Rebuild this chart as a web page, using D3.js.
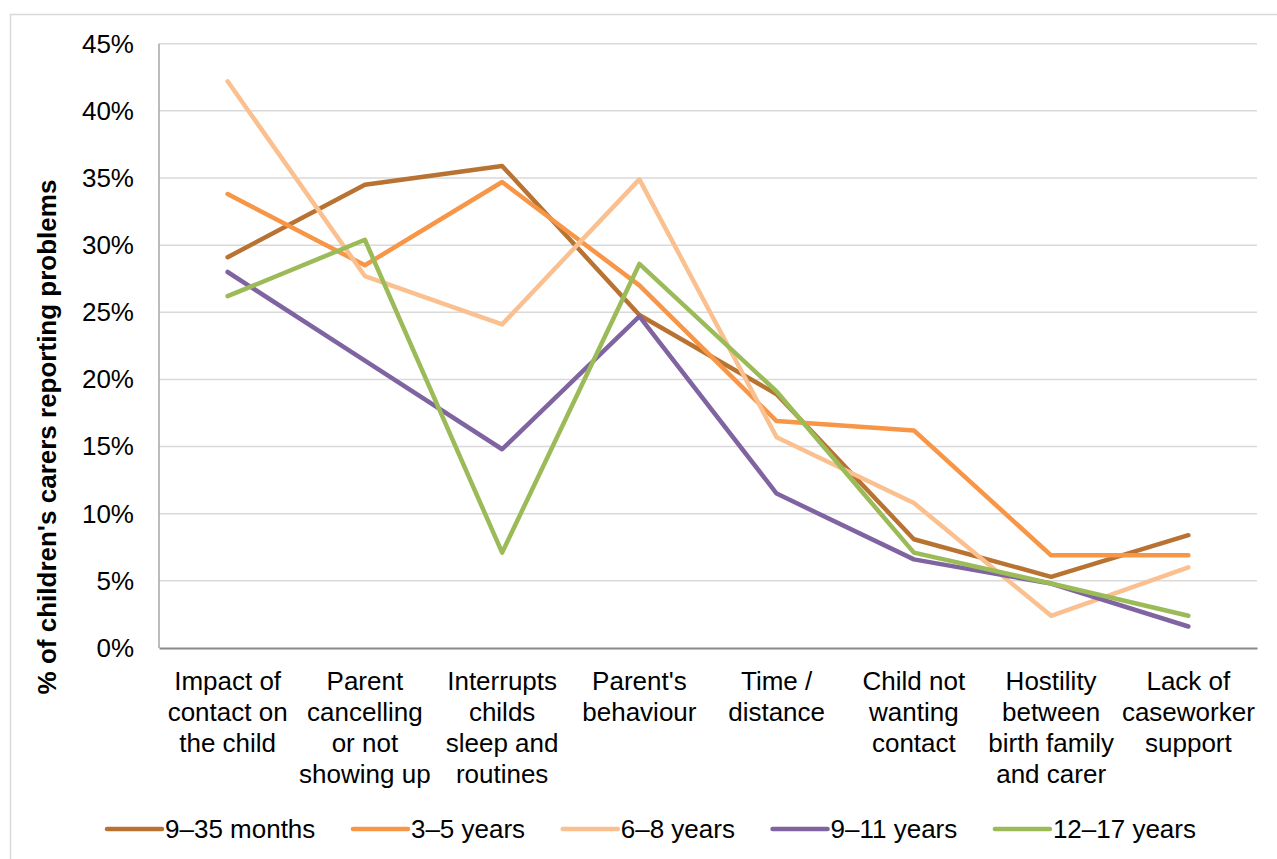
<!DOCTYPE html>
<html>
<head>
<meta charset="utf-8">
<script src="https://cdn.jsdelivr.net/npm/d3@7"></script>
<style>
  html, body { margin: 0; padding: 0; background: #fff; }
  svg { display: block; font-family: "Liberation Sans", Arial, sans-serif; }
</style>
</head>
<body>
<svg id="chart" width="1277" height="859"></svg>
<script>
const categories = [
  "Impact of\ncontact on\nthe child",
  "Parent\ncancelling\nor not\nshowing up",
  "Interrupts\nchilds\nsleep and\nroutines",
  "Parent's\nbehaviour",
  "Time /\ndistance",
  "Child not\nwanting\ncontact",
  "Hostility\nbetween\nbirth family\nand carer",
  "Lack of\ncaseworker\nsupport"
];
const seriesNames = ["9–35 months", "3–5 years", "6–8 years", "9–11 years", "12–17 years"];
const months9to35 = [29.1, 34.5, 35.9, 24.8, 18.9, 8.1, 5.3, 8.4];
const years3to5   = [33.8, 28.5, 34.7, 27.0, 16.9, 16.2, 6.9, 6.9];
const years6to8   = [42.2, 27.7, 24.1, 34.9, 15.7, 10.8, 2.4, 6.0];
const years9to11  = [28.0, 21.4, 14.8, 24.7, 11.5, 6.6, 4.8, 1.6];
const years12to17 = [26.2, 30.4, 7.1, 28.6, 19.1, 7.1, 4.8, 2.4];
const yTicks = [0, 5, 10, 15, 20, 25, 30, 35, 40, 45];
const colors = ["#B87333", "#F79646", "#FAC090", "#8064A2", "#9BBB59"];
const yTitle = "% of children's carers reporting problems";

const seriesValues = [months9to35, years3to5, years6to8, years9to11, years12to17];

const svg = d3.select("#chart");
const W = 1277, H = 859;
const FS = 26;

// outer chart border
svg.append("rect")
  .attr("x", 10.5).attr("y", 14.5)
  .attr("width", W).attr("height", H)
  .attr("fill", "none").attr("stroke", "#D9D9D9").attr("stroke-width", 1.5);

const plot = { left: 159, right: 1257, top: 43.7, bottom: 648 };

const x = d3.scaleBand().domain(d3.range(categories.length))
  .range([plot.left, plot.right]).paddingInner(0).paddingOuter(0);
const xc = i => x(i) + x.bandwidth() / 2;
const y = d3.scaleLinear().domain([0, 45]).range([plot.bottom, plot.top]);

// gridlines
svg.append("g")
  .selectAll("line")
  .data(yTicks.filter(t => t > 0))
  .join("line")
  .attr("x1", plot.left).attr("x2", plot.right)
  .attr("y1", d => y(d)).attr("y2", d => y(d))
  .attr("stroke", "#D9D9D9").attr("stroke-width", 1.5);

// y axis line
svg.append("line")
  .attr("x1", plot.left).attr("x2", plot.left)
  .attr("y1", plot.top).attr("y2", plot.bottom)
  .attr("stroke", "#A6A6A6").attr("stroke-width", 1.5);

// y tick labels
const yAxis = d3.axisLeft(y).tickValues(yTicks).tickFormat(d => d + "%").tickSize(0).tickPadding(25);
const yg = svg.append("g").attr("transform", `translate(${plot.left},0)`).call(yAxis);
yg.select(".domain").remove();
yg.selectAll("text")
  .attr("font-size", FS).attr("fill", "#000")
  .attr("font-family", "'Liberation Sans', Arial, sans-serif");

// x axis
const xAxis = d3.axisBottom(x).tickSize(0).tickFormat(() => "");
const xg = svg.append("g").attr("transform", `translate(0,${plot.bottom})`).call(xAxis);
xg.select(".domain").attr("stroke", "#898989").attr("stroke-width", 2);

// category labels (multi-line)
const lineH = 31;
const catG = svg.append("g");
categories.forEach((c, i) => {
  const t = catG.append("text")
    .attr("x", xc(i)).attr("y", 690)
    .attr("text-anchor", "middle").attr("font-size", FS).attr("fill", "#000");
  c.split("\n").forEach((ln, j) => {
    t.append("tspan").attr("x", xc(i)).attr("dy", j === 0 ? 0 : lineH).text(ln);
  });
});

// y title
svg.append("text")
  .attr("transform", `translate(56,437) rotate(-90)`)
  .attr("text-anchor", "middle")
  .attr("font-size", FS).attr("font-weight", "bold").attr("fill", "#000")
  .text(yTitle);

// lines
const line = d3.line().x((d, i) => xc(i)).y(d => y(d));
svg.append("g").selectAll("path")
  .data(seriesValues)
  .join("path")
  .attr("d", d => line(d))
  .attr("fill", "none")
  .attr("stroke", (d, i) => colors[i])
  .attr("stroke-width", 4.5)
  .attr("stroke-linejoin", "round")
  .attr("stroke-linecap", "round");

// legend
const legY = 829;
const swW = 55;
const legG = svg.append("g");
const tmp = legG.append("text").attr("font-size", FS).attr("visibility", "hidden");
const widths = seriesNames.map(n => { tmp.text(n); return tmp.node().getComputedTextLength(); });
tmp.remove();
const itemW = widths.map(w => swW + 3 + w);
const startX = 107, endX = 1196;
const gap = (endX - startX - d3.sum(itemW)) / (seriesNames.length - 1);
let lx = startX;
seriesNames.forEach((n, i) => {
  legG.append("line")
    .attr("x1", lx).attr("x2", lx + swW)
    .attr("y1", legY).attr("y2", legY)
    .attr("stroke", colors[i]).attr("stroke-width", 4.5).attr("stroke-linecap", "round");
  legG.append("text")
    .attr("x", lx + swW + 3).attr("y", legY + 9)
    .attr("font-size", FS).attr("fill", "#000").text(n);
  lx += itemW[i] + gap;
});
</script>
</body>
</html>
